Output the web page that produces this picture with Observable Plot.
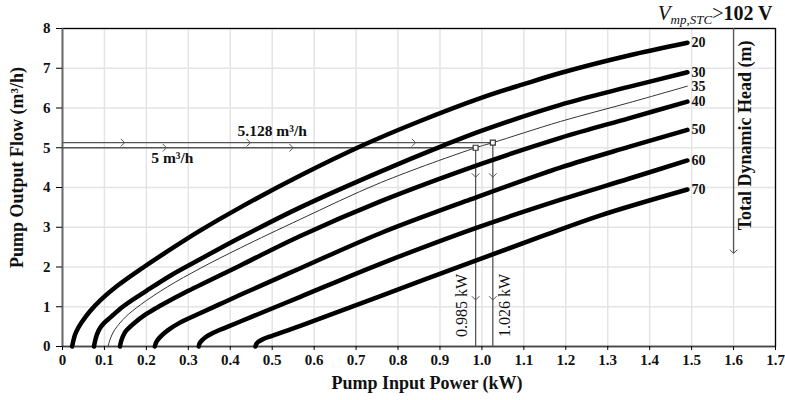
<!DOCTYPE html>
<html><head><meta charset="utf-8">
<script src="https://cdn.jsdelivr.net/npm/d3@7"></script>
<script src="https://cdn.jsdelivr.net/npm/@observablehq/plot@0.6"></script>
<style>
body{margin:0;background:#fff}
svg{font-family:"Liberation Serif","Times New Roman",serif}
</style>
</head><body><div id="chart"></div>
<script>
// ---- data ----
const heads = [20, 30, 35, 40, 50, 60, 70];
const power20 = [0.023,0.026,0.03,0.037,0.045,0.065,0.09,0.13,0.194,0.26,0.329,0.424,0.567,0.72,0.85,1.0,1.1,1.187,1.35,1.49];
const flow20  = [0,0.15,0.3,0.46,0.6,0.88,1.16,1.52,2.0,2.46,2.92,3.5,4.3,5.08,5.66,6.26,6.6,6.88,7.32,7.64];
const power30 = [0.075,0.078,0.082,0.09,0.1,0.115,0.146,0.2,0.26,0.329,0.424,0.567,0.758,0.909,1.0,1.187,1.35,1.49];
const flow30  = [0,0.15,0.3,0.47,0.6,0.74,1.02,1.4,1.8,2.2,2.74,3.5,4.4,5.06,5.43,6.08,6.53,6.9];
const power35 = [0.109,0.111,0.115,0.121,0.13,0.15,0.186,0.25,0.329,0.424,0.567,0.758,0.985,1.026,1.187,1.35,1.49];
const flow35  = [0,0.1,0.22,0.36,0.5,0.74,1.05,1.5,1.97,2.48,3.2,4.12,5.0,5.128,5.66,6.13,6.55];
const power40 = [0.137,0.139,0.142,0.147,0.152,0.17,0.2,0.234,0.3,0.424,0.567,0.758,1.0,1.187,1.35,1.49];
const flow40  = [0,0.1,0.2,0.32,0.4,0.58,0.82,1.03,1.4,2.04,2.78,3.65,4.6,5.25,5.74,6.16];
const power50 = [0.22,0.224,0.232,0.25,0.28,0.32,0.37,0.424,0.567,0.758,0.973,1.187,1.35,1.49];
const flow50  = [0,0.12,0.23,0.4,0.6,0.8,1.04,1.3,1.97,2.85,3.7,4.5,5.02,5.45];
const power60 = [0.325,0.327,0.333,0.345,0.365,0.39,0.424,0.567,0.758,0.985,1.19,1.35,1.49];
const flow60  = [0,0.08,0.16,0.26,0.37,0.48,0.63,1.25,2.08,2.98,3.7,4.22,4.68];
const power70 = [0.46,0.462,0.467,0.477,0.5,0.567,0.758,0.985,1.15,1.283,1.49];
const flow70  = [0,0.06,0.12,0.18,0.27,0.52,1.27,2.16,2.8,3.3,3.95];

// operating points
const opPower = [0.985, 1.026];
const opFlow = [5, 5.128];
const opPowerLabels = ["0.985 kW", "1.026 kW"];
const opFlowLabels = ["5 m³/h", "5.128 m³/h"];
const opFlowLabelX = [0.262, 0.5];
const opFlowLabelY = [4.73, 5.41];
const opPowerLabelX = [0.953, 1.054];
const opPowerLabelY = [1.03, 1.03];
// chevrons on the guide lines
const chevRightX = [0.148, 0.448, 0.842, 0.248, 0.55];
const chevRightY = [5.128, 5.128, 5.128, 5, 5];
const chevDownX = [0.985, 0.985, 1.026, 1.026];
const chevDownY = [4.26, 1.17, 4.26, 1.17];
// head arrow
const headArrowX = 1.6;
const headArrowTop = 8;
const headArrowBottom = 2.34;

const xTicks = [0,0.1,0.2,0.3,0.4,0.5,0.6,0.7,0.8,0.9,1.0,1.1,1.2,1.3,1.4,1.5,1.6,1.7];
const yTicks = [0,1,2,3,4,5,6,7,8];

const xTitle = "Pump Input Power (kW)";
const yTitle = "Pump Output Flow (m³/h)";
const headTitle = "Total Dynamic Head (m)";
const titleParts = ["V", "mp,STC", ">", "102 V"];

// ---- build tables ----
const seriesPower = {20: power20, 30: power30, 35: power35, 40: power40, 50: power50, 60: power60, 70: power70};
const seriesFlow  = {20: flow20, 30: flow30, 35: flow35, 40: flow40, 50: flow50, 60: flow60, 70: flow70};
const rows = heads.flatMap(h => seriesPower[h].map((p, i) => ({head: h, power: p, flow: seriesFlow[h][i]})));
const thick = rows.filter(d => d.head !== 35);
const thin = rows.filter(d => d.head === 35);
const ends = heads.map(h => ({head: h, power: seriesPower[h].at(-1), flow: seriesFlow[h].at(-1)}));
const ops = opPower.map((p, i) => ({power: p, flow: opFlow[i], pl: opPowerLabels[i], fl: opFlowLabels[i],
  flx: opFlowLabelX[i], fly: opFlowLabelY[i], plx: opPowerLabelX[i], ply: opPowerLabelY[i]}));
const chevR = chevRightX.map((x, i) => ({x, y: chevRightY[i]}));
const chevD = chevDownX.map((x, i) => ({x, y: chevDownY[i]}));

const chevron = {draw(ctx, l, r) { ctx.moveTo(-3.5, 3.5); ctx.lineTo(0, 0); ctx.lineTo(3.5, 3.5); }};
const titleText = titleParts.join("");
const guide = "#555";

const chart = Plot.plot({
  width: 785, height: 400,
  marginLeft: 62, marginRight: 10, marginTop: 28, marginBottom: 54,
  x: {domain: [0, 1.7]},
  y: {domain: [0, 8]},
  marks: [
    Plot.gridX(xTicks, {stroke: "#e4e4e4", strokeOpacity: 1, strokeWidth: 1.5}),
    Plot.gridY(yTicks, {stroke: "#e4e4e4", strokeOpacity: 1, strokeWidth: 1.5}),
    Plot.frame({stroke: "#000", strokeWidth: 1.3}),
    Plot.ruleX([0], {stroke: "#666", strokeWidth: 1.6}),
    Plot.ruleY([0], {stroke: "#444", strokeWidth: 1.6}),
    Plot.axisX(xTicks, {tickSize: 4, tickPadding: 4, fontSize: 15, fontWeight: "bold", fill: "#111",
      tickFormat: d => d === 0 ? "0" : d.toFixed(1), label: null}),
    Plot.axisY(yTicks, {tickSize: 6, tickPadding: 6, fontSize: 15, fontWeight: "bold", fill: "#111", label: null}),
    // guide lines
    Plot.ruleY(ops, {y: "flow", x1: 0, x2: "power", stroke: guide, strokeWidth: 1.3}),
    Plot.ruleX(ops, {x: "power", y1: 0, y2: "flow", stroke: guide, strokeWidth: 1.3}),
    Plot.vector(chevR, {x: "x", y: "y", rotate: 90, length: 4, shape: chevron, anchor: "start", stroke: guide, strokeWidth: 1, fill: "none"}),
    Plot.vector(chevD, {x: "x", y: "y", rotate: 180, length: 4, shape: chevron, anchor: "start", stroke: guide, strokeWidth: 1, fill: "none"}),
    // curves
    Plot.line(thin, {x: "power", y: "flow", z: "head", curve: "catmull-rom", stroke: "#333", strokeWidth: 1}),
    Plot.line(thick, {x: "power", y: "flow", z: "head", curve: "catmull-rom", stroke: "#000", strokeWidth: 4.5, strokeLinecap: "round"}),
    Plot.dot(ops, {x: "power", y: "flow", symbol: "square", r: 2.8, fill: "white", stroke: "#333", strokeWidth: 1.2}),
    // head arrow
    Plot.ruleX([headArrowX], {y1: headArrowTop, y2: headArrowBottom, stroke: guide, strokeWidth: 1.3}),
    Plot.vector([headArrowX], {x: d => d, y: headArrowBottom, rotate: 180, length: 4, shape: chevron, anchor: "start", stroke: guide, strokeWidth: 1, fill: "none"}),
    // labels
    Plot.text(ends, {x: "power", y: "flow", text: d => String(d.head), dx: 4, textAnchor: "start", fontSize: 14, fontWeight: "bold", fill: "#111"}),
    Plot.text(ops, {x: "flx", y: "fly", text: "fl", fontSize: 15.5, fontWeight: "bold", fill: "#111"}),
    Plot.text(ops, {x: "plx", y: "ply", text: "pl", rotate: -90, fontSize: 16, fill: "#111"}),
    Plot.text([headTitle], {x: 1.6285, y: 5.31, rotate: -90, fontSize: 18, fontWeight: "bold", fill: "#111"}),
    Plot.text([xTitle], {frameAnchor: "bottom", textAnchor: "middle", dx: 8, dy: 37, lineAnchor: "middle", fontSize: 18, fontWeight: "bold", fill: "#111"}),
    Plot.text([yTitle], {frameAnchor: "left", textAnchor: "middle", lineAnchor: "middle", dx: -45, dy: -20, rotate: -90, fontSize: 18, fontWeight: "bold", fill: "#111"}),
    Plot.text([titleText], {frameAnchor: "top-right", dx: -3, dy: -9, lineAnchor: "bottom", textAnchor: "end", fontSize: 20, fontWeight: "bold", fill: "#111"})
  ]
});

d3.select(chart).selectAll("text").filter(function() { return this.textContent === titleText; }).each(function() {
  const t = d3.select(this);
  t.text(null);
  t.append("tspan").attr("font-style", "italic").attr("font-weight", "normal").attr("font-size", 21).text(titleParts[0]);
  t.append("tspan").attr("font-style", "italic").attr("font-weight", "normal").attr("font-size", 13).attr("dy", 4).text(titleParts[1]);
  t.append("tspan").attr("font-weight", "normal").attr("dy", -4).text(titleParts[2]);
  t.append("tspan").text(titleParts[3]);
});

document.getElementById("chart").appendChild(chart);
</script>
</body></html>
